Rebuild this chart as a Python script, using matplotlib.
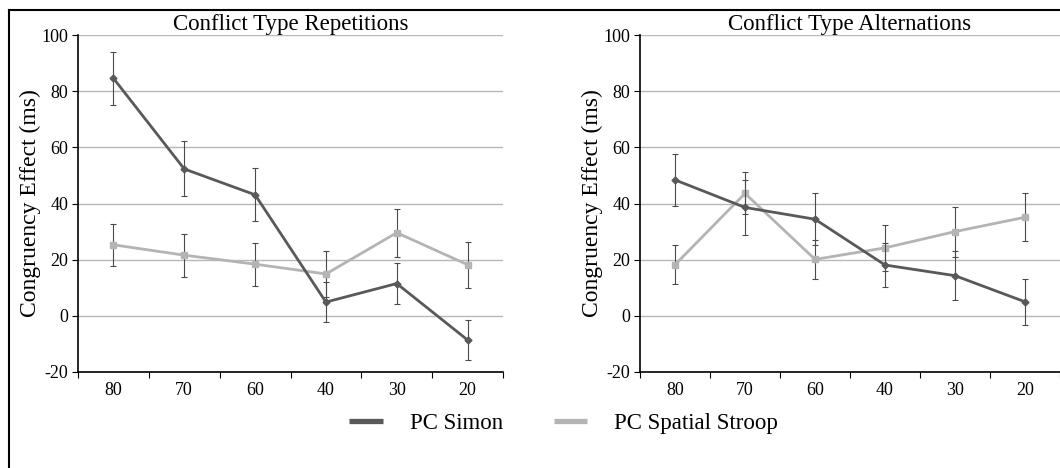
import numpy as np
import matplotlib
matplotlib.use("Agg")
import matplotlib.pyplot as plt
from matplotlib.lines import Line2D

plt.rcParams['font.family'] = ['Liberation Serif', 'DejaVu Serif']
plt.rcParams['axes.unicode_minus'] = False

# data
pc_levels = ['80', '70', '60', '40', '30', '20']
titles = ['Conflict Type Repetitions', 'Conflict Type Alternations']

rep_simon = [84.6, 52.3, 43.1, 4.9, 11.5, -8.6]
rep_simon_err = [9.5, 9.8, 9.5, 7.1, 7.3, 7.1]
rep_stroop = [25.3, 21.6, 18.4, 14.9, 29.6, 18.2]
rep_stroop_err = [7.5, 7.7, 7.6, 8.3, 8.6, 8.2]

alt_simon = [48.4, 38.6, 34.4, 18.1, 14.3, 5.0]
alt_simon_err = [9.2, 9.9, 9.2, 8.0, 8.7, 8.1]
alt_stroop = [18.2, 43.6, 20.1, 24.2, 30.0, 35.1]
alt_stroop_err = [7.0, 7.5, 6.9, 8.3, 8.9, 8.5]

simon_col = '#595959'
stroop_col = '#b4b4b4'

fig = plt.figure(figsize=(10.6, 4.68), dpi=100)
ax1 = fig.add_axes([78/1060, 96/468, 425/1060, 337/468])
ax2 = fig.add_axes([640/1060, 96/468, 420/1060, 337/468])

panels = [
    (ax1, titles[0], rep_simon, rep_simon_err, rep_stroop, rep_stroop_err),
    (ax2, titles[1], alt_simon, alt_simon_err, alt_stroop, alt_stroop_err),
]

x = np.arange(len(pc_levels))
for ax, title, sm, sme, st, ste in panels:
    ax.errorbar(x, st, yerr=ste, color=stroop_col, lw=2, marker='s', ms=5,
                ecolor='#4a4a4a', elinewidth=0.8, capsize=2, capthick=0.8, zorder=3)
    ax.errorbar(x, sm, yerr=sme, color=simon_col, lw=2, marker='D', ms=3.5,
                ecolor='#4a4a4a', elinewidth=0.8, capsize=2, capthick=0.8, zorder=4)
    ax.set_xlim(-0.5, len(pc_levels) - 0.5)
    ax.set_ylim(-20, 100)
    ax.set_yticks(np.arange(-20, 101, 20))
    ax.yaxis.grid(True, color='#b8b8b8', lw=1)
    ax.set_axisbelow(True)
    ax.set_xticks(x)
    ax.set_xticklabels(pc_levels, fontsize=13)
    ax.set_xticks(np.arange(-0.5, len(pc_levels)), minor=True)
    ax.tick_params(axis='x', which='major', length=0, pad=7)
    ax.tick_params(axis='x', which='minor', length=4, width=0.8)
    ax.tick_params(axis='y', labelsize=13, length=4, width=0.8, pad=3)
    for s in ['top', 'right']:
        ax.spines[s].set_visible(False)
    ax.spines['left'].set_linewidth(1.2)
    ax.spines['bottom'].set_linewidth(1.2)
    ax.set_ylabel('Congruency Effect (ms)', fontsize=17, labelpad=0)
    ax.set_title(title, fontsize=16.5, pad=1)

handles = [Line2D([], [], color=simon_col, lw=3.8, solid_capstyle='butt'),
           Line2D([], [], color=stroop_col, lw=3.8, solid_capstyle='butt')]
fig.legend(handles, ['PC Simon', 'PC Spatial Stroop'], loc='center',
           bbox_to_anchor=(0.532, 0.096), ncol=2, frameon=False, fontsize=16.5,
           handlelength=1.45, handletextpad=1.2, columnspacing=2.2)

# frame edges visible in the original crop
fig.add_artist(Line2D([9/1060, 1], [1 - 10/468, 1 - 10/468], color='black', lw=1.5,
                      transform=fig.transFigure))
fig.add_artist(Line2D([9/1060, 9/1060], [0, 1 - 10/468], color='black', lw=1.5,
                      transform=fig.transFigure))

fig.savefig('out.png', dpi=100)
